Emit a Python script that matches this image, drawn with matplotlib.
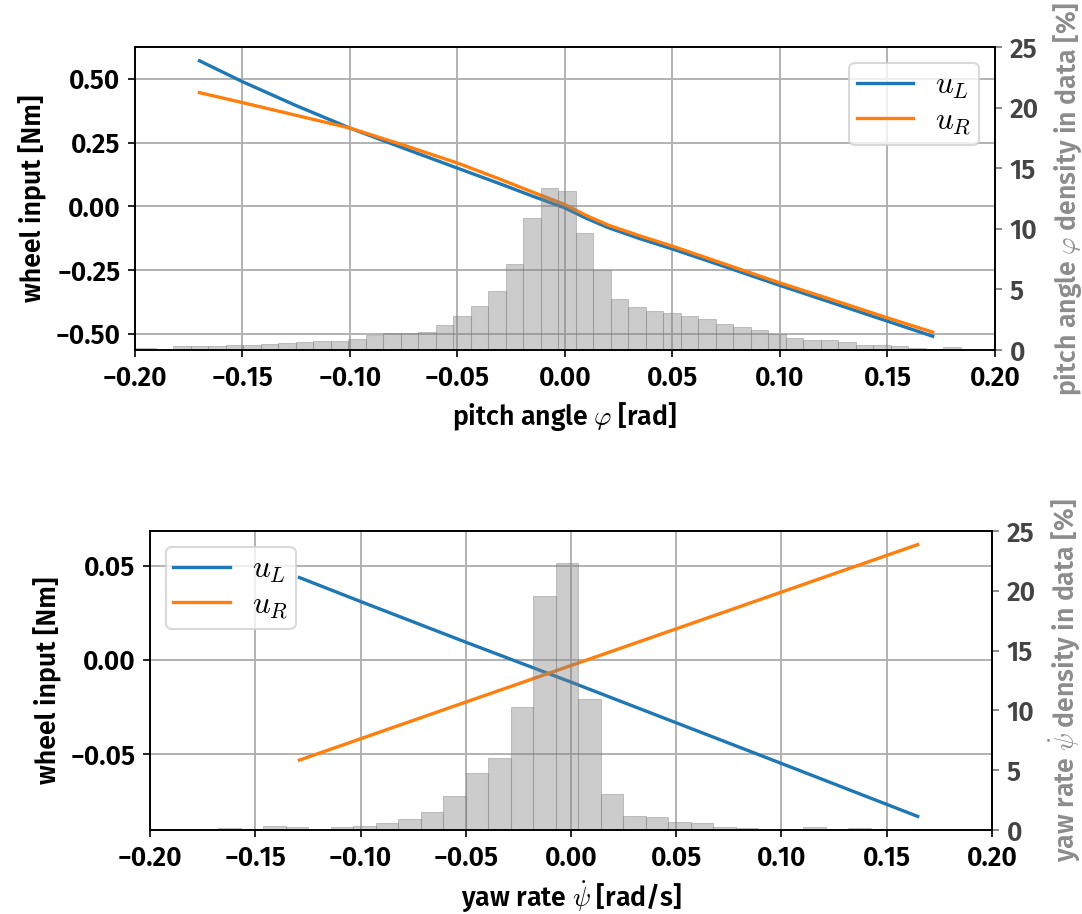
import numpy as np
import matplotlib
matplotlib.use("Agg")
import matplotlib.pyplot as plt
from matplotlib import font_manager

# pick the first sans family that actually ships a medium/semibold/bold face
_weights = {}
for f in font_manager.fontManager.ttflist:
    _weights.setdefault(f.name, set()).add(f.weight)
FAMILY = "DejaVu Sans"
WEIGHT = "bold"
for fam in ["Fira Sans", "Roboto", "Open Sans", "Lato", "Inter", "Noto Sans"]:
    ws = _weights.get(fam, set())
    cand = [w for w in ws if isinstance(w, int) and 500 <= w <= 700]
    if cand:
        FAMILY = fam
        WEIGHT = min(cand, key=lambda w: abs(w - 600))
        break

plt.rcParams["font.family"] = [FAMILY, "DejaVu Sans"]
plt.rcParams["font.weight"] = WEIGHT
plt.rcParams["axes.labelweight"] = WEIGHT
plt.rcParams["mathtext.fontset"] = "cm"
plt.rcParams["font.size"] = 12.8

# ---- pitch controller sweep ----
pitch_x = [-0.170, -0.150, -0.125, -0.100, -0.075, -0.050, -0.030, -0.015,
           0.000, 0.010, 0.020, 0.035, 0.050, 0.075, 0.100, 0.125, 0.150, 0.171]
pitch_uL = [0.571, 0.489, 0.395, 0.307, 0.228, 0.150, 0.088, 0.040,
            -0.006, -0.047, -0.083, -0.127, -0.167, -0.238, -0.310, -0.380, -0.450, -0.509]
pitch_uR = [0.446, 0.407, 0.357, 0.307, 0.240, 0.170, 0.106, 0.056,
            0.007, -0.036, -0.073, -0.116, -0.156, -0.228, -0.300, -0.368, -0.437, -0.493]

# pitch angle histogram (percent per bin)
pitch_bin_start = -0.2066
pitch_bin_width = 0.00814
pitch_hist = [0.13, 0.13, 0.12, 0.33, 0.33, 0.33, 0.41, 0.41, 0.52, 0.60,
              0.69, 0.74, 0.74, 0.91, 1.24, 1.38, 1.38, 1.49, 2.06, 2.81,
              3.63, 4.87, 7.10, 10.86, 13.37, 13.12, 9.68, 6.60, 4.24, 3.58,
              3.25, 3.08, 2.81, 2.59, 2.15, 1.93, 1.65, 1.32, 1.02, 0.83,
              0.83, 0.66, 0.42, 0.42, 0.33, 0.19, 0.00, 0.22, 0.10, 0.10]

# ---- yaw controller sweep ----
yaw_x = [-0.129, -0.100, -0.050, 0.000, 0.050, 0.100, 0.1647]
yaw_uL = [0.0437, 0.0310, 0.0094, -0.0118, -0.0334, -0.0550, -0.0831]
yaw_uR = [-0.0532, -0.0419, -0.0224, -0.0030, 0.0165, 0.0360, 0.0612]

# yaw rate histogram (percent per bin)
yaw_bin_start = -0.19962
yaw_bin_width = 0.010689
yaw_hist = [0.03, 0.03, 0.03, 0.14, 0.02, 0.33, 0.25, 0.10, 0.25, 0.33,
            0.56, 0.92, 1.50, 2.84, 4.74, 6.05, 10.26, 19.56, 22.30, 10.93,
            3.01, 1.17, 1.06, 0.64, 0.56, 0.28, 0.20, 0.08, 0.05, 0.22,
            0.03, 0.14]

W, H = 1082, 914
fig = plt.figure(figsize=(W / 150, H / 150), dpi=150)

RIGHT_TICK = "#444444"
RIGHT_LABEL = "#8c8c8c"


def panel(rect, x, uL, uR, bstart, bwidth, counts, xlabel, rlabel,
          yticks, legend_loc):
    ax = fig.add_axes(rect)
    ax.plot(x, uL, color="tab:blue", lw=1.6, label=r"$u_L$")
    ax.plot(x, uR, color="tab:orange", lw=1.6, label=r"$u_R$")
    ax.set_xlim(-0.2, 0.2)
    ax.set_xticks(np.arange(-0.2, 0.2001, 0.05))
    ax.set_yticks(yticks)
    ax.grid(True, color="#b0b0b0", lw=0.9)
    ax.set_xlabel(xlabel)
    ax.set_ylabel("wheel input [Nm]")
    ax.legend(loc=legend_loc, fontsize=15, handlelength=1.8,
              labelspacing=0.15, borderpad=0.25, handletextpad=0.7,
              framealpha=0.8, edgecolor="#d0d0d0")

    ax2 = ax.twinx()
    edges = bstart + bwidth * np.arange(len(counts) + 1)
    ax2.hist(edges[:-1], bins=edges, weights=counts, color="gray",
             alpha=0.4, edgecolor="gray", linewidth=0.5)
    ax2.set_ylim(0, 25)
    ax2.set_yticks([0, 5, 10, 15, 20, 25])
    ax2.tick_params(axis="y", colors="#777777", labelcolor=RIGHT_TICK)
    ax2.set_ylabel(rlabel, color=RIGHT_LABEL, labelpad=6)
    ax.set_xlim(-0.2, 0.2)
    return ax, ax2


panel([135 / W, 1 - 350 / H, 860 / W, 303 / H],
      pitch_x, pitch_uL, pitch_uR,
      pitch_bin_start, pitch_bin_width, pitch_hist,
      r"pitch angle $\varphi$ [rad]",
      r"pitch angle $\varphi$ density in data [%]",
      [-0.5, -0.25, 0.0, 0.25, 0.5], "upper right")

panel([150 / W, 1 - 830 / H, 842 / W, 299 / H],
      yaw_x, yaw_uL, yaw_uR,
      yaw_bin_start, yaw_bin_width, yaw_hist,
      r"yaw rate $\dot{\psi}$ [rad/s]",
      r"yaw rate $\dot{\psi}$ density in data [%]",
      [-0.05, 0.0, 0.05], "upper left")

fig.savefig("out.png", dpi=150)
